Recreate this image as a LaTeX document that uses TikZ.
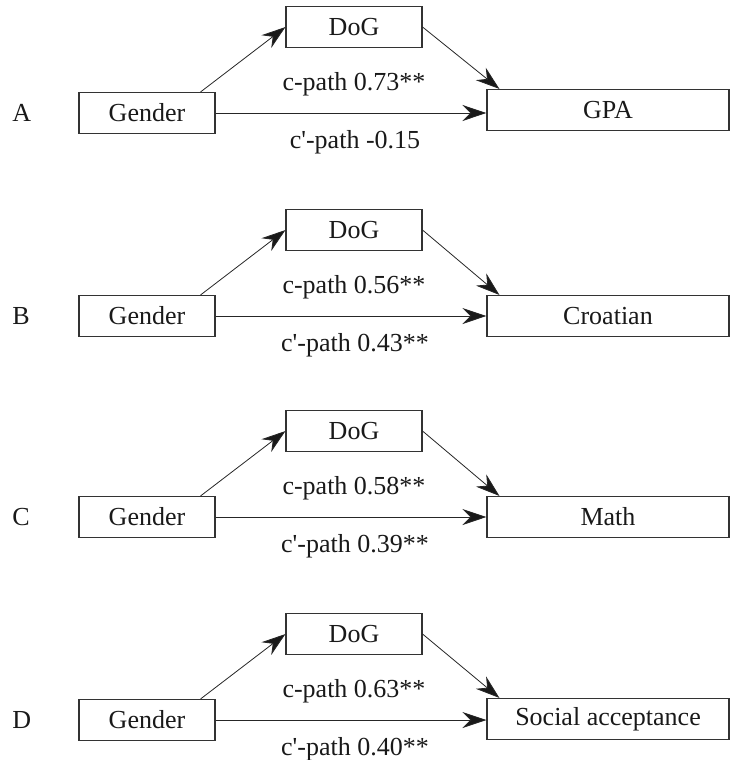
\documentclass[tikz,border=0pt]{standalone}
\usepackage{fontspec}
\setmainfont{Liberation Serif}
\usetikzlibrary{arrows.meta}
\newcommand\lblfont{\fontsize{19.5}{23}\selectfont}
\begin{document}
\begin{tikzpicture}[x=0.75pt,y=-0.75pt,
  box/.style={draw=black!80, line width=0.8pt, minimum height=30.75pt, inner sep=0pt, font=\lblfont, text=black!90},
  smallbox/.style={box, minimum width=102pt},
  widebox/.style={box, minimum width=181.5pt},
  txt/.style={inner sep=0pt, font=\lblfont, text=black!90},
  conn/.style={draw=black!85, line width=0.6pt, -{Stealth[length=18pt,width=12pt,inset=6pt,fill=black!90]}}
]
\useasboundingbox (0,0) rectangle (730,760);
\foreach \L/\g/\o/\out/\c/\cp in {A/113/110/GPA/0.73**/-0.15,
                                   B/316/316/Croatian/0.56**/0.43**,
                                   C/517/517/Math/0.58**/0.39**,
                                   D/720/719/Social acceptance/0.63**/0.40**}{
  \node[txt, anchor=west] (l\L) at (12,\g) {\L};
  \node[smallbox] (g\L) at (147,\g) {Gender};
  \node[smallbox] (d\L) at (354,\g-86) {DoG};
  \node[widebox] (o\L) at (608,\o) {\out};
  \node[txt] (c\L) at (354,\g-29) {c-path \c};
  \node[txt] (cp\L) at (355,\g+29) {c\textquotesingle-path \cp};
  \draw[conn] ([xshift=-11.25pt]g\L.north east) -- (d\L.west);
  \draw[conn] (d\L.east) -- ([xshift=9.75pt]o\L.north west);
  \draw[conn] (g\L.east) -- (g\L.east -| o\L.west);
}
\end{tikzpicture}
\end{document}
